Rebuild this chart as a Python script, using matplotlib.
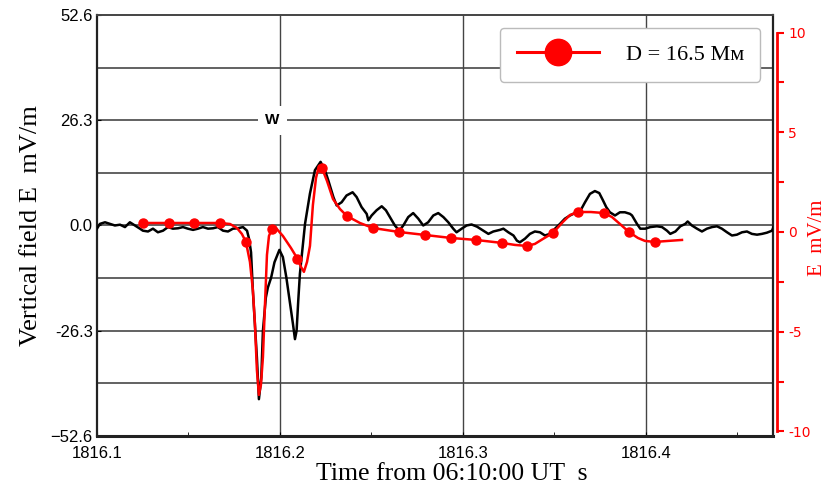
import matplotlib.pyplot as plt
from matplotlib.lines import Line2D

# observed vertical field E, mV/m (left axis)
obs_t = [1816.1000, 1816.1016, 1816.1044, 1816.1071, 1816.1098, 1816.1126, 1816.1153, 1816.1180,
         1816.1208, 1816.1235, 1816.1251, 1816.1279, 1816.1306, 1816.1333, 1816.1361, 1816.1388,
         1816.1415, 1816.1443, 1816.1470, 1816.1497, 1816.1525, 1816.1552, 1816.1579, 1816.1607,
         1816.1634, 1816.1661, 1816.1689, 1816.1716, 1816.1743, 1816.1770, 1816.1798, 1816.1820,
         1816.1831, 1816.1842, 1816.1852, 1816.1874, 1816.1885, 1816.1898, 1816.1907, 1816.1923,
         1816.1934, 1816.1952, 1816.1970, 1816.1997, 1816.2016, 1816.2035, 1816.2053, 1816.2071,
         1816.2082, 1816.2091, 1816.2100, 1816.2109, 1816.2124, 1816.2137, 1816.2155, 1816.2164,
         1816.2191, 1816.2222, 1816.2246, 1816.2264, 1816.2292, 1816.2310, 1816.2337, 1816.2364,
         1816.2397, 1816.2419, 1816.2446, 1816.2474, 1816.2483, 1816.2501, 1816.2528, 1816.2556,
         1816.2579, 1816.2601, 1816.2628, 1816.2652, 1816.2674, 1816.2701, 1816.2728, 1816.2756,
         1816.2783, 1816.2810, 1816.2838, 1816.2865, 1816.2893, 1816.2920, 1816.2947, 1816.2965,
         1816.2993, 1816.3020, 1816.3047, 1816.3077, 1816.3112, 1816.3139, 1816.3166, 1816.3202,
         1816.3221, 1816.3248, 1816.3276, 1816.3295, 1816.3311, 1816.3339, 1816.3366, 1816.3393,
         1816.3421, 1816.3448, 1816.3475, 1816.3503, 1816.3530, 1816.3557, 1816.3585, 1816.3621,
         1816.3648, 1816.3667, 1816.3694, 1816.3721, 1816.3745, 1816.3765, 1816.3783, 1816.3803,
         1816.3831, 1816.3858, 1816.3885, 1816.3913, 1816.3924, 1816.3951, 1816.3969, 1816.3996,
         1816.4024, 1816.4060, 1816.4088, 1816.4115, 1816.4133, 1816.4161, 1816.4188, 1816.4215,
         1816.4228, 1816.4251, 1816.4279, 1816.4306, 1816.4333, 1816.4361, 1816.4388, 1816.4415,
         1816.4443, 1816.4470, 1816.4497, 1816.4525, 1816.4552, 1816.4579, 1816.4607, 1816.4634,
         1816.4661, 1816.4689, 1816.4697]
obs_e = [-0.8, 0.4, 0.8, 0.4, 0.0, 0.2, -0.4, 0.8,
         0.0, -0.8, -1.3, -1.5, -0.8, -1.7, -1.3, -0.4,
         -0.8, -0.7, -0.4, -0.8, -1.1, -0.8, -0.4, -0.8,
         -0.7, -0.4, -1.3, -1.5, -0.8, -0.7, -0.4, -1.3,
         -3.3, -6.7, -16.3, -33.0, -43.4, -38.0, -26.3, -18.0,
         -15.5, -13.0, -9.2, -6.1, -7.9, -13.0, -18.8, -24.6,
         -28.4, -26.3, -18.8, -12.1, -5.4, 0.4, 5.4, 8.0,
         13.8, 15.9, 13.8, 11.3, 7.1, 5.0, 5.8, 7.5,
         8.3, 7.1, 4.6, 2.9, 1.3, 2.5, 3.8, 4.8,
         3.8, 2.1, 0.0, -1.3, 0.0, 2.1, 3.1, 1.7,
         0.0, 0.8, 2.5, 3.1, 2.1, 0.8, -0.8, -1.7,
         -0.8, 0.0, 0.25, -0.3, -1.3, -2.1, -1.5, -1.1,
         -0.8, -1.7, -2.5, -3.8, -4.2, -3.3, -2.1, -1.5,
         -1.7, -2.5, -2.1, -0.8, 0.4, 1.7, 2.5, 3.3,
         4.2, 5.8, 7.9, 8.6, 8.1, 6.3, 4.6, 3.3,
         2.5, 3.3, 3.3, 2.9, 2.5, 0.4, -0.8, -0.8,
         -0.4, -0.2, -0.4, -1.3, -2.1, -1.5, -0.2, 0.4,
         1.0, 0.0, -0.8, -1.5, -0.8, -0.4, -0.2, -0.8,
         -1.7, -2.5, -2.3, -1.7, -1.5, -2.1, -2.3, -2.1,
         -1.8, -1.3, -0.4]

# model curve, D = 16.5 Mm (right axis)
model_t = [1816.1251, 1816.1393, 1816.1530, 1816.1672, 1816.1727, 1816.1765, 1816.1792, 1816.1814,
           1816.1836, 1816.1852, 1816.1863, 1816.1874, 1816.1885, 1816.1896, 1816.1907, 1816.1918,
           1816.1929, 1816.1940, 1816.1956, 1816.1978, 1816.2016, 1816.2060, 1816.2093, 1816.2115,
           1816.2131, 1816.2148, 1816.2164, 1816.2180, 1816.2197, 1816.2213, 1816.2224, 1816.2240,
           1816.2257, 1816.2290, 1816.2328, 1816.2366, 1816.2437, 1816.2508, 1816.2650, 1816.2792,
           1816.2934, 1816.3071, 1816.3213, 1816.3284, 1816.3350, 1816.3393, 1816.3437, 1816.3492,
           1816.3546, 1816.3585, 1816.3628, 1816.3699, 1816.3770, 1816.3814, 1816.3858, 1816.3907,
           1816.3956, 1816.3995, 1816.4049, 1816.4120, 1816.4197]
model_e = [0.45, 0.45, 0.45, 0.45, 0.40, 0.20, -0.10, -0.50,
           -1.50, -2.91, -4.56, -6.92, -8.17, -7.67, -6.27, -3.66,
           -1.15, -0.20, 0.15, 0.20, -0.20, -0.80, -1.30, -1.75,
           -2.00, -1.50, -0.70, 1.35, 2.71, 3.31, 3.31, 2.96,
           2.56, 1.65, 1.15, 0.80, 0.45, 0.20, 0.00, -0.15,
           -0.30, -0.40, -0.55, -0.65, -0.70, -0.60, -0.35, -0.05,
           0.50, 0.85, 1.00, 1.00, 0.95, 0.75, 0.40, 0.00,
           -0.30, -0.45, -0.50, -0.45, -0.40]

# sample points on the model curve
pts_t = [1816.1251, 1816.1393, 1816.1530, 1816.1672, 1816.1814, 1816.1956, 1816.2093,
         1816.2228, 1816.2366, 1816.2508, 1816.2650, 1816.2792, 1816.2934, 1816.3071,
         1816.3213, 1816.3350, 1816.3492, 1816.3628, 1816.3770, 1816.3907, 1816.4049]
pts_e = [0.45, 0.45, 0.45, 0.45, -0.50, 0.15, -1.35,
         3.22, 0.80, 0.22, -0.02, -0.15, -0.29, -0.40,
         -0.55, -0.69, -0.07, 0.99, 0.95, -0.02, -0.52]

y_ticks = [52.6, 26.3, 0.0, -26.3, -52.6]
y_ticklabels = ["52.6", "26.3", "0.0", "-26.3", "\u221252.6"]
grid_levels = [39.45, 26.3, 13.15, 0.0, -13.15, -26.3, -39.45]
x_ticks = [1816.1, 1816.2, 1816.3, 1816.4]
x_ticklabels = ["1816.1", "1816.2", "1816.3", "1816.4"]
x_grid = [1816.2, 1816.3, 1816.4]
red_ticks = [-10, -5, 0, 5, 10]
red_minor = [-7.5, -2.5, 2.5, 7.5]

SERIF = "Liberation Serif"
SANS = ["Liberation Sans Narrow", "Liberation Sans"]

fig = plt.figure(figsize=(8.28, 4.86), dpi=100)
ax = fig.add_axes([0.1171, 0.1029, 0.8164, 0.8663])

for lev in grid_levels:
    ax.axhline(lev, color="#555555", lw=1.3, zorder=1)
for xv in x_grid:
    ax.axvline(xv, color="#444444", lw=1.0, zorder=1)

ax.plot(obs_t, obs_e, color="black", lw=1.8, zorder=3)

ax.text(1816.196, 26.3, "W", ha="center", va="center", fontsize=11, fontweight="bold",
        family=SANS, zorder=2,
        bbox=dict(boxstyle="square,pad=0.5", fc="white", ec="none"))

ax.set_xlim(1816.1, 1816.4694)
ax.set_ylim(-52.6, 52.6)
ax.set_yticks(y_ticks)
ax.set_yticklabels(y_ticklabels, family=SANS, fontsize=12)
ax.set_xticks(x_ticks)
ax.set_xticklabels(x_ticklabels, family=SANS, fontsize=12)
ax.set_xticks([1816.15, 1816.25, 1816.35, 1816.45], minor=True)
ax.tick_params(axis="y", length=3, direction="in", pad=3)
ax.tick_params(axis="x", which="both", length=3, direction="in", pad=7)

for side in ["left", "right", "bottom"]:
    ax.spines[side].set_color("#222222")
    ax.spines[side].set_linewidth(1.6)
ax.spines["top"].set_color("#444444")
ax.spines["top"].set_linewidth(1.4)
ax.spines["bottom"].set_linewidth(2.2)

ax.set_ylabel("Vertical field E  mV/m", family=SERIF, fontsize=19, labelpad=6)
ax.set_xlabel("Time from 06:10:00 UT  s", family=SERIF, fontsize=18.5)
ax.xaxis.set_label_coords(0.525, -0.063)

# right axis for the model, in mV/m
ax2 = ax.twinx()
ax2.plot(model_t, model_e, color="red", lw=1.8, zorder=4)
ax2.plot(pts_t, pts_e, "o", color="red", markersize=6.5, zorder=5)
ax2.set_ylim(-10.23, 10.88)
ax2.set_yticks(red_ticks)
ax2.set_yticks(red_minor, minor=True)
ax2.set_yticklabels([str(v) for v in red_ticks], family=SERIF, fontsize=11, color="red")
ax2.tick_params(axis="y", which="both", colors="red", direction="out", length=5, width=1.5, pad=3)
for side in ["left", "top", "bottom"]:
    ax2.spines[side].set_visible(False)
ax2.spines["right"].set_color("red")
ax2.spines["right"].set_linewidth(2.0)
ax2.spines["right"].set_bounds(-10, 10)
ax2.spines["right"].set_position(("outward", 3))
ax2.set_ylabel("E  mV/m", family=SERIF, fontsize=15, color="red")
ax2.yaxis.set_label_coords(1.052, 0.47)

handle = Line2D([0], [0], color="red", lw=2.2, marker="o", markersize=19)
ax2.legend([handle], ["D = 16.5 M\u043c"], loc="upper left",
           bbox_to_anchor=(500 / 828, 1 - 28 / 486), bbox_transform=fig.transFigure,
           borderaxespad=0, prop={"family": SERIF, "size": 16}, handlelength=3.7,
           handletextpad=1.2, borderpad=0.75, fancybox=True, framealpha=1,
           edgecolor="#bbbbbb")

fig.savefig("out.png", dpi=100)
